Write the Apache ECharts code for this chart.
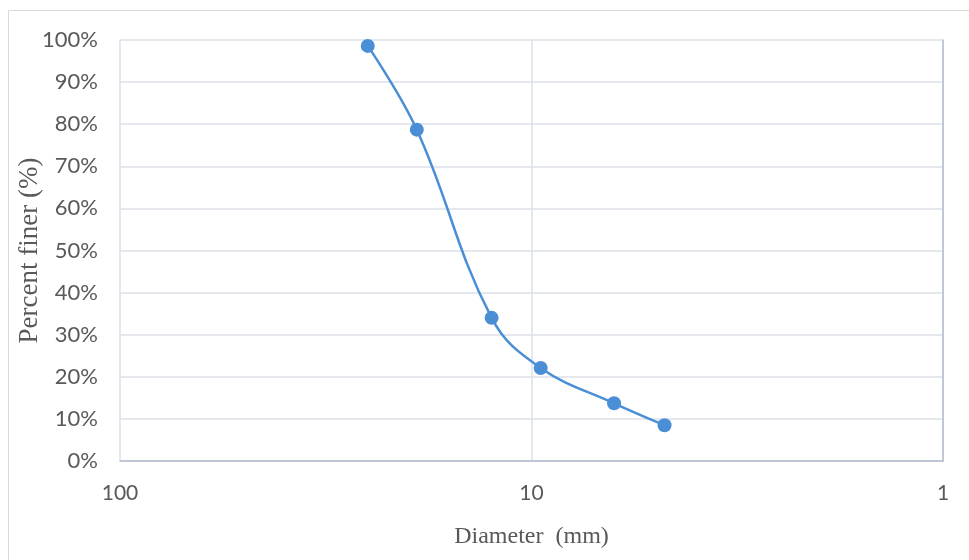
<!DOCTYPE html>
<html>
<head>
<meta charset="utf-8">
<title>Percent finer</title>
<script src="https://cdn.jsdelivr.net/npm/echarts@6/dist/echarts.min.js"></script>
<style>
    html, body { margin: 0; padding: 0; background: #fff; }
    #gradChart { width: 969px; height: 560px; }
</style>
</head>
<body>
<div id="gradChart"></div>
<script>
// 粒径 (mm) 与 通过百分比
var diameters = [25, 19, 12.5, 9.5, 6.3, 4.75];
var percentFiner = [98.6, 78.7, 34, 22.1, 13.7, 8.5];
var xTicks = [100, 10, 1];

var lineColor = '#4a8fd6';
var labelColor = '#595959';

var chart = echarts.init(document.getElementById('gradChart'));

var points = diameters.map(function (d, i) { return [d, percentFiner[i]]; });

chart.setOption({
    animation: false,
    graphic: [{
        // 外框
        type: 'rect',
        shape: { x: 8.5, y: 10.5, width: 1000, height: 600 },
        style: { fill: 'none', stroke: '#d9d9d9', lineWidth: 1 },
        silent: true
    }],
    grid: { left: 120, right: 26, top: 40, bottom: 99, outerBoundsMode: 'none' },
    xAxis: {
        type: 'log',
        logBase: 10,
        min: 1,
        max: 100,
        inverse: true,
        name: 'Diameter  (mm)',
        nameLocation: 'middle',
        nameGap: 64,
        nameTextStyle: { fontFamily: 'Liberation Serif', fontSize: 24, color: labelColor },
        axisLine: { lineStyle: { color: '#b4bccc', width: 1.5 } },
        axisTick: { show: false },
        axisLabel: {
            margin: 22,
            fontFamily: 'Lato',
            fontSize: 21,
            color: labelColor,
            formatter: function (v) { return xTicks.indexOf(v) >= 0 ? String(v) : ''; }
        },
        splitLine: { show: true, lineStyle: { color: '#dde2ea', width: 1.5 } },
        minorTick: { show: false }
    },
    yAxis: [{
        type: 'value',
        min: 0,
        max: 100,
        interval: 10,
        name: 'Percent finer (%)',
        nameLocation: 'middle',
        nameGap: 77,
        nameMoveOverlap: false,
        nameTextStyle: { fontFamily: 'Liberation Serif', fontSize: 27, color: labelColor },
        axisLine: { show: false },
        axisTick: { show: false },
        axisLabel: {
            margin: 22,
            fontFamily: 'Lato',
            fontSize: 22,
            color: labelColor,
            formatter: '{value}%'
        },
        splitLine: { lineStyle: { color: '#dde2ea', width: 1.5 } }
    }, {
        // 右侧纵轴线 (Excel 反向坐标时轴在右边)
        type: 'value',
        position: 'right',
        min: 0,
        max: 100,
        axisLine: { show: true, lineStyle: { color: '#b4bccc', width: 1.5 } },
        axisTick: { show: false },
        axisLabel: { show: false },
        splitLine: { show: false }
    }],
    series: [{
        type: 'line',
        data: points,
        smooth: 0.4,
        symbol: 'circle',
        symbolSize: 14,
        lineStyle: { color: lineColor, width: 2.5 },
        itemStyle: { color: lineColor }
    }]
});
</script>
</body>
</html>
